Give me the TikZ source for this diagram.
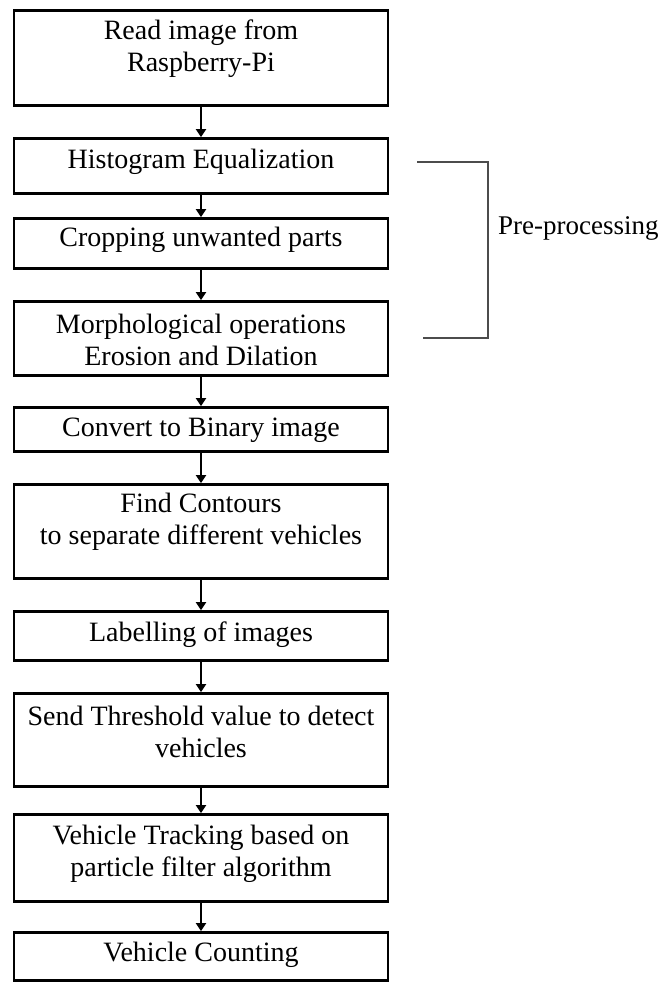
\documentclass[tikz,border=0pt]{standalone}
\usepackage{fontspec}
\setmainfont{Liberation Serif}
\usetikzlibrary{arrows.meta}
\begin{document}
\begin{tikzpicture}[x=1pt,y=-1pt,
  box/.style={draw=black,line width=2.8pt,minimum width=374pt,inner sep=0pt,outer sep=1.4pt},
  txt/.style={align=center,inner sep=0pt,font=\fontsize{28}{32}\selectfont},
  flow/.style={line width=2pt,-{Triangle[width=10pt,length=8pt]}},
  brk/.style={draw=black!70,line width=1.3pt}]
\useasboundingbox (0,0) rectangle (659,984);
\node[box,minimum height=95pt] (b1) at (201,58) {};
\node[txt] (t1) at (201,49) {Read image from\\Raspberry-Pi};
\node[box,minimum height=55pt] (b2) at (201,166) {};
\node[txt] (t2) at (201,162) {Histogram Equalization};
\node[box,minimum height=50pt] (b3) at (201,243.5) {};
\node[txt] (t3) at (201,240) {Cropping unwanted parts};
\node[box,minimum height=74pt] (b4) at (201,338.5) {};
\node[txt] (t4) at (201,340) {Morphological operations\\Erosion and Dilation};
\node[box,minimum height=44pt] (b5) at (201,429.5) {};
\node[txt] (t5) at (201,430) {Convert to Binary image};
\node[box,minimum height=94pt] (b6) at (201,531.5) {};
\node[txt] (t6) at (201,522) {Find Contours\\to separate different vehicles};
\node[box,minimum height=49pt] (b7) at (201,636) {};
\node[txt] (t7) at (201,635) {Labelling of images};
\node[box,minimum height=93pt] (b8) at (201,740) {};
\node[txt] (t8) at (201,732) {Send Threshold value to detect\\vehicles};
\node[box,minimum height=87pt] (b9) at (201,858) {};
\node[txt] (t9) at (201,854) {Vehicle Tracking based on\\particle filter algorithm};
\node[box,minimum height=48pt] (b10) at (201,956.5) {};
\node[txt] (t10) at (201,955) {Vehicle Counting};
\foreach \a/\b in {b1/b2,b2/b3,b3/b4,b4/b5,b5/b6,b6/b7,b7/b8,b8/b9,b9/b10}
  \draw[flow] (\a.south) -- (\b.north);
\coordinate (p1) at (417,162);
\coordinate (p2) at (488,162);
\coordinate (p3) at (488,338);
\coordinate (p4) at (423,338);
\draw[brk] (p1) -- (p2) -- (p3) -- (p4);
\node[anchor=west,inner sep=0pt,font=\fontsize{27}{32}\selectfont] (pre) at (498,228) {Pre-processing};
\end{tikzpicture}
\end{document}
